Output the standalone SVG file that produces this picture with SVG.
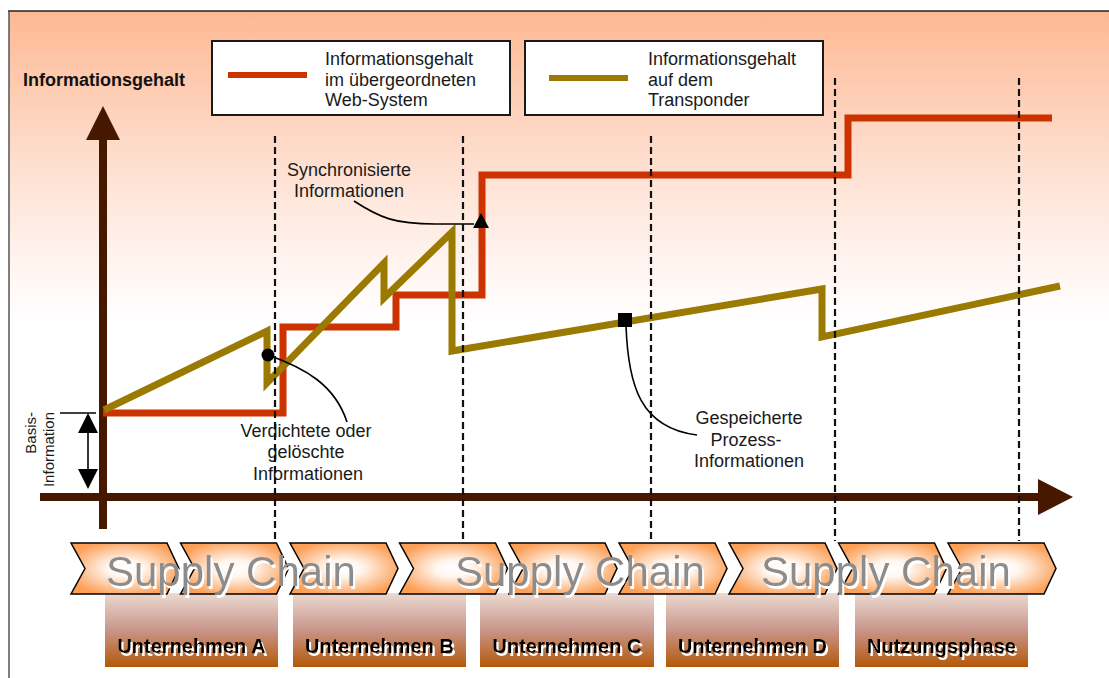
<svg xmlns="http://www.w3.org/2000/svg" width="1109" height="678" viewBox="0 0 1109 678">
  <defs>
    <linearGradient id="bg" gradientUnits="userSpaceOnUse" x1="0" y1="11" x2="0" y2="320">
      <stop offset="0" stop-color="#FDB893"/>
      <stop offset="0.45" stop-color="#FEDCCB"/>
      <stop offset="0.8" stop-color="#FFF3EE"/>
      <stop offset="1" stop-color="#FFFFFF"/>
    </linearGradient>
    <radialGradient id="chev" cx="0.5" cy="0.5" r="0.55">
      <stop offset="0" stop-color="#FFFFFF"/>
      <stop offset="0.3" stop-color="#FFF6EF"/>
      <stop offset="1" stop-color="#FCA058"/>
    </radialGradient>
    <linearGradient id="company" x1="0" y1="0" x2="0" y2="1">
      <stop offset="0" stop-color="#EBDAD2"/>
      <stop offset="0.5" stop-color="#C9968A"/>
      <stop offset="1" stop-color="#B35808"/>
    </linearGradient>
    <!-- white drop shadow used behind the chain and company labels -->
    <filter id="whiteShadow" x="-5%" y="-20%" width="115%" height="150%">
      <feOffset in="SourceAlpha" dx="2" dy="3" result="off"/>
      <feFlood flood-color="#FFFFFF"/>
      <feComposite in2="off" operator="in" result="sh"/>
      <feMerge>
        <feMergeNode in="sh"/>
        <feMergeNode in="SourceGraphic"/>
      </feMerge>
    </filter>
    <path id="chevron" d="M0,543 H96 L108,568.5 L96,594 H0 L14,568.5 Z"/>
    <style>
      text { font-family: "Liberation Sans", Arial, sans-serif; }
      .lbl { font-size: 18px; fill: #1a1a1a; }
      .lbl-c { font-size: 18px; fill: #1a1a1a; text-anchor: middle; }
      .axis { fill: #461800; }
      .dash { stroke: #111; stroke-width: 2.2; stroke-dasharray: 7 4; fill: none; }
      .web { stroke: #CC3300; stroke-width: 7; fill: none; stroke-linejoin: miter; }
      .tp { stroke: #9A7A00; stroke-width: 7; fill: none; stroke-linejoin: miter; }
      .call { stroke: #000; stroke-width: 1.6; fill: none; }
      .legend { fill: #FFFFFF; stroke: #1a1a1a; stroke-width: 2; }
      .chev { fill: url(#chev); stroke: #000; stroke-width: 1.5; stroke-linejoin: miter; }
      .sc { font-size: 42px; fill: #8C8C8C; filter: url(#whiteShadow); }
      .co { fill: url(#company); }
      .co-t { font-size: 20px; font-weight: bold; fill: #000; text-anchor: middle; filter: url(#whiteShadow); }
    </style>
  </defs>

  <!-- frame and background -->
  <g id="frame">
    <rect x="9" y="11" width="1110" height="680" fill="url(#bg)"/>
    <line x1="8" y1="11" x2="1109" y2="11" stroke="#222" stroke-width="1.5"/>
    <line x1="9" y1="11" x2="9" y2="678" stroke="#555" stroke-width="1.5"/>
  </g>

  <!-- legend -->
  <g id="legend-web">
    <rect class="legend" x="212" y="41" width="298" height="74"/>
    <line x1="228" y1="75" x2="307" y2="75" stroke="#CC3300" stroke-width="6"/>
    <text class="lbl" x="325" y="65">Informationsgehalt</text>
    <text class="lbl" x="325" y="86">im übergeordneten</text>
    <text class="lbl" x="325" y="106">Web-System</text>
  </g>
  <g id="legend-transponder">
    <rect class="legend" x="525" y="41" width="298" height="74"/>
    <line x1="549" y1="78" x2="628" y2="78" stroke="#9A7A00" stroke-width="6"/>
    <text class="lbl" x="648" y="65">Informationsgehalt</text>
    <text class="lbl" x="648" y="86">auf dem</text>
    <text class="lbl" x="648" y="106">Transponder</text>
  </g>

  <!-- axes -->
  <g id="y-axis">
    <text x="23" y="86" font-size="18" font-weight="bold" fill="#111">Informationsgehalt</text>
    <rect class="axis" x="99" y="138" width="8" height="391"/>
    <polygon class="axis" points="103,106 120,140 86,140"/>
  </g>
  <g id="x-axis">
    <rect class="axis" x="40" y="493" width="1000" height="8"/>
    <polygon class="axis" points="1038,479 1073,497 1038,515"/>
  </g>

  <!-- base information span -->
  <g id="basis">
    <line x1="60" y1="413" x2="96" y2="413" stroke="#000" stroke-width="1.6"/>
    <line x1="88" y1="430" x2="88" y2="472" stroke="#000" stroke-width="1.6"/>
    <polygon points="88,413 98,433 78,433" fill="#000"/>
    <polygon points="88,489 98,469 78,469" fill="#000"/>
    <text x="36" y="412" font-size="15" fill="#1a1a1a" text-anchor="end" transform="rotate(-90 36 412)">Basis-</text>
    <text x="54" y="412" font-size="15" fill="#1a1a1a" text-anchor="end" transform="rotate(-90 54 412)">Information</text>
  </g>

  <!-- curves -->
  <g id="curve-web">
    <path class="web" d="M103,413 H283 V327 H396 V295 H482 V175 H848 V118 H1052"/>
  </g>
  <g id="curve-transponder">
    <path class="tp" d="M104,410 L267,331 V383 L384,263 V298 L452,232 V351 L822,289 V337 L1060,286"/>
  </g>

  <!-- annotations -->
  <g id="note-sync">
    <text class="lbl-c" x="349" y="176">Synchronisierte</text>
    <text class="lbl-c" x="349" y="197">Informationen</text>
    <path class="call" d="M354,201 C380,218 395,224 435,224 L474,224"/>
    <polygon points="481,213 489,228 473,228" fill="#000"/>
  </g>
  <g id="note-compressed">
    <circle cx="268" cy="355" r="6.5" fill="#000"/>
    <path class="call" d="M268,355 C305,368 335,385 347,422"/>
    <text class="lbl-c" x="306" y="437">Verdichtete oder</text>
    <text class="lbl-c" x="306" y="458">gelöschte</text>
    <text class="lbl-c" x="308" y="480">Informationen</text>
  </g>
  <g id="note-stored">
    <path class="call" d="M626,325 C628,385 640,428 697,435"/>
    <rect x="618" y="313" width="14" height="14" fill="#000"/>
    <text class="lbl-c" x="749" y="424">Gespeicherte</text>
    <text class="lbl-c" x="746" y="446">Prozess-</text>
    <text class="lbl-c" x="749" y="467">Informationen</text>
  </g>

  <!-- phase borders -->
  <g id="connectors">
    <line class="dash" x1="275" y1="136" x2="275" y2="541"/>
    <line class="dash" x1="463" y1="136" x2="463" y2="541"/>
    <line class="dash" x1="651" y1="136" x2="651" y2="541"/>
    <line class="dash" x1="835" y1="78" x2="835" y2="541"/>
    <line class="dash" x1="1019" y1="78" x2="1019" y2="541"/>
  </g>

  <!-- company blocks -->
  <g id="company-a">
    <rect class="co" x="105" y="593" width="173" height="74"/>
    <text class="co-t" x="191.5" y="653">Unternehmen A</text>
  </g>
  <g id="company-b">
    <rect class="co" x="293" y="593" width="173" height="74"/>
    <text class="co-t" x="379.5" y="653">Unternehmen B</text>
  </g>
  <g id="company-c">
    <rect class="co" x="480" y="593" width="174" height="74"/>
    <text class="co-t" x="567" y="653">Unternehmen C</text>
  </g>
  <g id="company-d">
    <rect class="co" x="666" y="593" width="173" height="74"/>
    <text class="co-t" x="752.5" y="653">Unternehmen D</text>
  </g>
  <g id="usage-phase">
    <rect class="co" x="855" y="593" width="173" height="74"/>
    <text class="co-t" x="941.5" y="653">Nutzungsphase</text>
  </g>

  <!-- supply chain arrows -->
  <g id="supply-chain">
    <use href="#chevron" class="chev" x="71"/>
    <use href="#chevron" class="chev" x="180.5"/>
    <use href="#chevron" class="chev" x="290"/>
    <use href="#chevron" class="chev" x="399.5"/>
    <use href="#chevron" class="chev" x="509"/>
    <use href="#chevron" class="chev" x="619"/>
    <use href="#chevron" class="chev" x="729"/>
    <use href="#chevron" class="chev" x="838.5"/>
    <use href="#chevron" class="chev" x="948"/>
    <text class="sc" x="106" y="586">Supply Chain</text>
    <text class="sc" x="455" y="586">Supply Chain</text>
    <text class="sc" x="761" y="586">Supply Chain</text>
  </g>
</svg>
